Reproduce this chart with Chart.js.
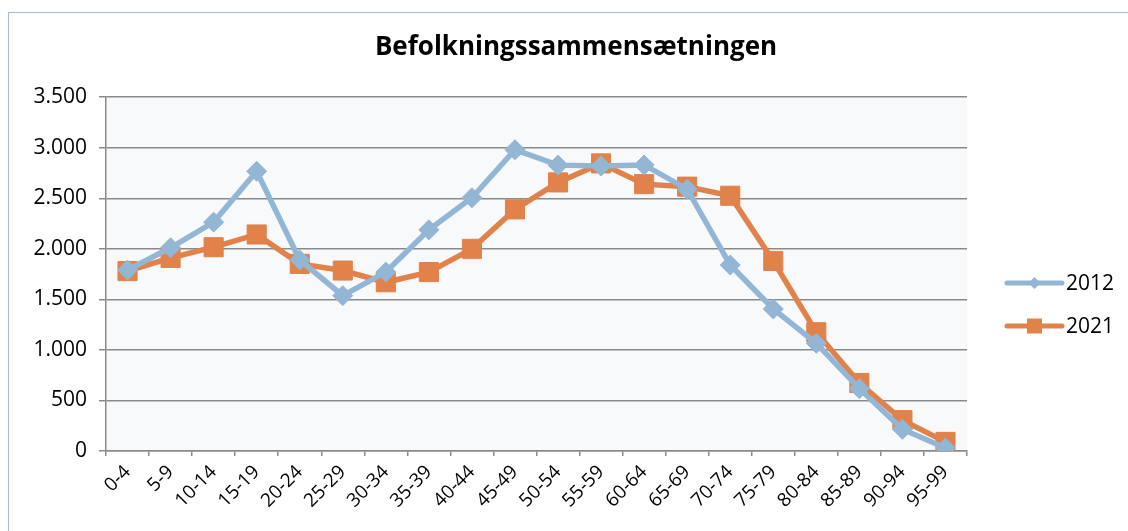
<!DOCTYPE html>
<html>
<head>
<meta charset="utf-8">
<script src="https://cdn.jsdelivr.net/npm/chart.js@4.4.1/dist/chart.umd.min.js"></script>
<style>
  html, body { margin: 0; padding: 0; background: #ffffff; overflow: hidden; }
  #wrap { position: relative; width: 1128px; height: 531px; overflow: hidden; }
  #frame { position: absolute; left: 8px; top: 12px; width: 1300px; height: 700px;
           border: 1.5px solid #9fbcd9; box-sizing: border-box; pointer-events: none; }
  canvas { position: absolute; left: 0; top: 0; }
</style>
</head>
<body>
<div id="wrap">
  <canvas id="c" width="1152" height="531"></canvas>
  <div id="frame"></div>
</div>
<script>
const chartTitle = 'Befolkningssammensætningen';
const categories = ['0-4','5-9','10-14','15-19','20-24','25-29','30-34','35-39','40-44','45-49',
                    '50-54','55-59','60-64','65-69','70-74','75-79','80-84','85-89','90-94','95-99'];
const seriesNames = ['2012', '2021'];
const values2012 = [1790, 2010, 2264, 2767, 1890, 1537, 1770, 2188, 2505, 2980,
                    2828, 2820, 2830, 2590, 1840, 1405, 1065, 617, 215, 30];
const values2021 = [1780, 1910, 2016, 2142, 1851, 1785, 1669, 1770, 2000, 2390,
                    2657, 2845, 2640, 2615, 2525, 1880, 1175, 673, 305, 90];
const yTickValues = [0, 500, 1000, 1500, 2000, 2500, 3000, 3500];
const yTickLabels = ['0', '500', '1.000', '1.500', '2.000', '2.500', '3.000', '3.500'];

const FONT = "'Open Sans', 'Noto Sans', sans-serif";
const BLUE = '#93b6d5';
const ORANGE = '#e0824a';

const plotBg = {
  id: 'plotBg',
  beforeDraw(chart) {
    const a = chart.chartArea, ctx = chart.ctx;
    ctx.save();
    ctx.fillStyle = '#f8f9fb';
    ctx.fillRect(a.left, a.top, a.right - a.left, a.bottom - a.top);
    ctx.restore();
  }
};

const lineLegend = {
  id: 'lineLegend',
  afterDraw(chart) {
    const ctx = chart.ctx;
    const a = chart.chartArea;
    const x0 = a.right + 40, x1 = a.right + 95;
    chart.data.datasets.forEach((ds, i) => {
      const y = 283 + i * 43;
      ctx.save();
      ctx.strokeStyle = ds.borderColor;
      ctx.lineWidth = 5;
      ctx.lineCap = 'round';
      ctx.beginPath();
      ctx.moveTo(x0, y); ctx.lineTo(x1, y);
      ctx.stroke();
      const cx = (x0 + x1) / 2;
      ctx.fillStyle = ds.pointBackgroundColor;
      if (ds.pointStyle === 'rectRot') {
        const h = 6;
        ctx.beginPath();
        ctx.moveTo(cx, y - h); ctx.lineTo(cx + h, y); ctx.lineTo(cx, y + h); ctx.lineTo(cx - h, y);
        ctx.closePath(); ctx.fill();
      } else {
        const s = 15;
        ctx.fillRect(cx - s / 2, y - s / 2, s, s);
      }
      ctx.fillStyle = '#000';
      ctx.font = '21px ' + FONT;
      ctx.textBaseline = 'middle';
      ctx.textAlign = 'left';
      ctx.fillText(ds.label, x1 + 4, y + 1);
      ctx.restore();
    });
  }
};

new Chart(document.getElementById('c'), {
  type: 'line',
  data: {
    labels: categories,
    datasets: [
      { label: seriesNames[0], data: values2012, borderColor: BLUE, backgroundColor: BLUE,
        pointBackgroundColor: BLUE, pointBorderColor: BLUE, borderWidth: 5.5,
        pointStyle: 'rectRot', pointRadius: 10, pointBorderWidth: 1, tension: 0 },
      { label: seriesNames[1], data: values2021, borderColor: ORANGE, backgroundColor: ORANGE,
        pointBackgroundColor: ORANGE, pointBorderColor: ORANGE, borderWidth: 5.5,
        pointStyle: 'rect', pointRadius: 13.5, pointBorderWidth: 1, tension: 0 }
    ]
  },
  options: {
    responsive: false,
    animation: false,
    devicePixelRatio: 1,
    layout: { padding: { left: 0, right: 0, top: 0, bottom: 0 } },
    plugins: {
      legend: { display: false },
      tooltip: { enabled: false },
      title: {
        display: true, text: chartTitle, color: '#000',
        font: { family: FONT, size: 26, weight: 'bold', lineHeight: 1.2 },
        padding: { top: 32, bottom: 34 }
      }
    },
    scales: {
      x: {
        offset: true,
        grid: { offset: true, drawOnChartArea: false, drawTicks: true, tickLength: 5,
                color: '#8a8a8a', lineWidth: 1.5 },
        border: { display: true, color: '#8a8a8a', width: 1.5 },
        ticks: { color: '#000', font: { family: FONT, size: 19 }, maxRotation: 45, minRotation: 45,
                 autoSkip: false, padding: 5 },
        afterFit(s) { s.height = 80; }
      },
      y: {
        min: 0, max: 3500,
        afterBuildTicks(s) { s.ticks = yTickValues.map(v => ({ value: v })); },
        grid: { color: '#8a8a8a', lineWidth: 1.5, tickLength: 7 },
        border: { display: true, color: '#8a8a8a', width: 1.5 },
        ticks: { color: '#000', font: { family: FONT, size: 21 }, padding: 12,
                 callback(v) { const i = yTickValues.indexOf(v); return i >= 0 ? yTickLabels[i] : ''; } },
        afterFit(s) { s.width = 106; }
      },
      legendSpace: {
        position: 'right', min: 0, max: 3500,
        grid: { display: false, drawTicks: false },
        border: { display: false },
        ticks: { display: false },
        afterFit(s) { s.width = 185; }
      }
    }
  },
  plugins: [plotBg, lineLegend]
});
</script>
</body>
</html>
